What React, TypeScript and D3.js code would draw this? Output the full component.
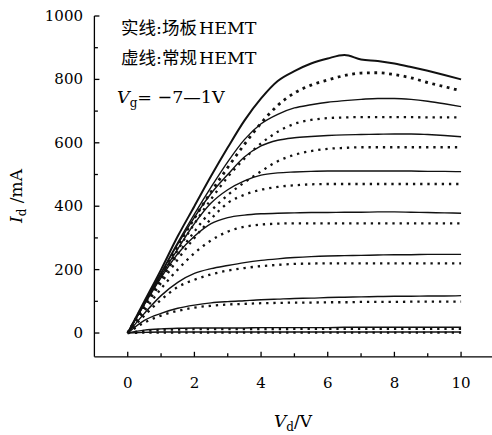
import React from 'react';
import * as d3 from 'd3';

// drain voltage samples (V)
const vd = [0, 0.5, 1, 1.5, 2, 2.5, 3, 3.5, 4, 4.5, 5, 5.5, 6, 6.5, 7, 7.5, 8, 8.5, 9, 9.5, 10];

// gate voltages, top curve first
const vgLevels = [1, 0, -1, -2, -3, -4, -5, -6, -7];

// field-plate HEMT (solid), Id in mA
const fpVg1 = [0, 100, 200, 305, 400, 495, 585, 670, 740, 795, 826, 850, 866, 877, 863, 858, 850, 839, 827, 814, 800];
const fpVg0 = [0, 95, 190, 285, 375, 460, 540, 610, 660, 690, 710, 720, 728, 733, 737, 740, 740, 737, 731, 723, 714];
const fpVgM1 = [0, 95, 188, 280, 365, 440, 500, 555, 590, 608, 616, 620, 623, 625, 626, 627, 628, 628, 626, 623, 619];
const fpVgM2 = [0, 92, 182, 265, 345, 410, 452, 480, 498, 505, 508, 510, 511, 511, 511, 511, 511, 511, 510, 510, 509];
const fpVgM3 = [0, 90, 175, 250, 305, 345, 364, 372, 376, 378, 379, 380, 380, 381, 381, 382, 382, 381, 380, 379, 378];
const fpVgM4 = [0, 62, 118, 160, 188, 203, 213, 222, 229, 234, 238, 241, 243, 244, 245, 246, 247, 247, 248, 248, 248];
const fpVgM5 = [0, 40, 62, 78, 88, 95, 99, 102, 105, 107, 109, 110, 112, 113, 114, 115, 116, 116, 117, 117, 118];
const fpVgM6 = [0, 9, 13, 15, 16, 16, 16, 16, 17, 17, 17, 17, 17, 18, 18, 18, 18, 18, 18, 18, 18];
const fpVgM7 = [0, 2, 3, 3, 3, 3, 3, 3, 3, 3, 3, 3, 3, 3, 3, 3, 3, 3, 3, 3, 3];

// conventional HEMT (dotted), Id in mA
const convVg1 = [0, 92, 183, 275, 362, 445, 522, 595, 662, 718, 757, 782, 798, 812, 820, 821, 815, 805, 790, 777, 764];
const convVg0 = [0, 88, 175, 262, 345, 422, 492, 550, 598, 635, 660, 672, 678, 680, 681, 681, 681, 681, 680, 680, 680];
const convVgM1 = [0, 85, 168, 248, 320, 385, 435, 475, 510, 542, 562, 574, 581, 584, 586, 586, 586, 586, 586, 586, 586];
const convVgM2 = [0, 80, 158, 232, 300, 360, 410, 436, 452, 461, 466, 469, 470, 470, 470, 470, 470, 470, 470, 470, 470];
const convVgM3 = [0, 70, 140, 200, 252, 292, 320, 335, 342, 345, 346, 346, 346, 346, 346, 346, 346, 346, 346, 346, 346];
const convVgM4 = [0, 55, 105, 145, 168, 185, 197, 205, 211, 215, 218, 219, 220, 220, 220, 220, 220, 220, 220, 220, 220];
const convVgM5 = [0, 33, 55, 70, 80, 86, 90, 92, 94, 95, 96, 96, 97, 97, 98, 98, 98, 99, 99, 99, 99];
const convVgM6 = [0, 7, 10, 11, 12, 12, 12, 12, 12, 12, 13, 13, 13, 13, 13, 13, 13, 13, 13, 13, 13];
const convVgM7 = [0, 1, 1, 1, 1, 1, 1, 1, 1, 1, 1, 1, 1, 1, 1, 1, 1, 1, 1, 1, 1];

const fpCurves = [fpVg1, fpVg0, fpVgM1, fpVgM2, fpVgM3, fpVgM4, fpVgM5, fpVgM6, fpVgM7];
const convCurves = [convVg1, convVg0, convVgM1, convVgM2, convVgM3, convVgM4, convVgM5, convVgM6, convVgM7];

const xTicks = [0, 2, 4, 6, 8, 10];
const xMinor = [1, 3, 5, 7, 9];
const yTicks = [0, 200, 400, 600, 800, 1000];
const yMinor = [100, 300, 500, 700, 900];

const W = 492, H = 435;
const serif = '"DejaVu Serif", serif';
const cjk = '"Noto Sans CJK SC", sans-serif';

export default function App() {
  const x = d3.scaleLinear().domain([-1, 11]).range([94.4, 494.4]);
  const y = d3.scaleLinear().domain([-75, 1000]).range([356.8, 16]);

  const line = d3.line<number>()
    .x((_, i) => x(vd[i]))
    .y(d => y(d))
    .curve(d3.curveMonotoneX);

  const x0 = x(-1), yBase = y(-75);

  return (
    <div style={{ position: 'absolute', left: 0, top: 0 }}>
      <svg width={W} height={H} style={{ display: 'block', background: '#fff' }} fontFamily={serif}>
        {/* curves, one pair per gate voltage in vgLevels */}
        <g fill="none">
          {convCurves.map((c, k) => (
            <path key={'c' + vgLevels[k]} d={line(c) || ''} stroke="#111"
              strokeWidth={k === 0 ? 2.8 : 2.3}
              strokeDasharray={k === 0 ? '2.8 4.6' : '2.3 4.9'} />
          ))}
          {fpCurves.map((c, k) => (
            <path key={'f' + vgLevels[k]} d={line(c) || ''} stroke="#111"
              strokeWidth={k === 0 ? 2 : 1.4} />
          ))}
        </g>

        {/* axes */}
        <g stroke="#000" strokeWidth={1.3}>
          <line x1={x0} x2={x0} y1={y(1000)} y2={yBase} />
          <line x1={x0} x2={W} y1={yBase} y2={yBase} />
          {yTicks.map(t => <line key={'yt' + t} x1={x0} x2={x0 + 5} y1={y(t)} y2={y(t)} />)}
          {yMinor.map(t => <line key={'ym' + t} x1={x0} x2={x0 + 3.5} y1={y(t)} y2={y(t)} />)}
          {xTicks.map(t => <line key={'xt' + t} x1={x(t)} x2={x(t)} y1={yBase} y2={yBase - 5} />)}
          {xMinor.map(t => <line key={'xm' + t} x1={x(t)} x2={x(t)} y1={yBase} y2={yBase - 3.5} />)}
        </g>
        <g fontSize={15} fill="#000">
          {yTicks.map(t => (
            <text key={'yl' + t} x={83} y={y(t)} textAnchor="end" dominantBaseline="central">{t}</text>
          ))}
          {xTicks.map(t => (
            <text key={'xl' + t} x={x(t)} y={388} textAnchor="middle">{t}</text>
          ))}
        </g>

        {/* axis titles */}
        <text transform="translate(22,196) rotate(-90)" textAnchor="middle" fontSize={17}>
          <tspan fontStyle="italic">I</tspan>
          <tspan fontSize={12} dy={4}>d</tspan>
          <tspan dy={-4}> /mA</tspan>
        </text>
        <text x={293} y={427} textAnchor="middle" fontSize={17}>
          <tspan fontStyle="italic">V</tspan>
          <tspan fontSize={12} dy={4}>d</tspan>
          <tspan dy={-4}>/V</tspan>
        </text>

        {/* annotations */}
        <g fontSize={17.5}>
          <text x={121} y={34}>
            <tspan fontFamily={cjk}>实线</tspan>
            <tspan fontFamily={serif}>:</tspan>
            <tspan fontFamily={cjk}>场板</tspan>
            <tspan fontFamily={serif} dx={2}>HEMT</tspan>
          </text>
          <text x={121} y={64}>
            <tspan fontFamily={cjk}>虚线</tspan>
            <tspan fontFamily={serif}>:</tspan>
            <tspan fontFamily={cjk}>常规</tspan>
            <tspan fontFamily={serif} dx={2}>HEMT</tspan>
          </text>
          <text x={117} y={103}>
            <tspan fontStyle="italic">V</tspan>
            <tspan fontSize={12} dy={4}>g</tspan>
            <tspan dy={-4}>= −7—1V</tspan>
          </text>
        </g>
      </svg>
    </div>
  );
}
